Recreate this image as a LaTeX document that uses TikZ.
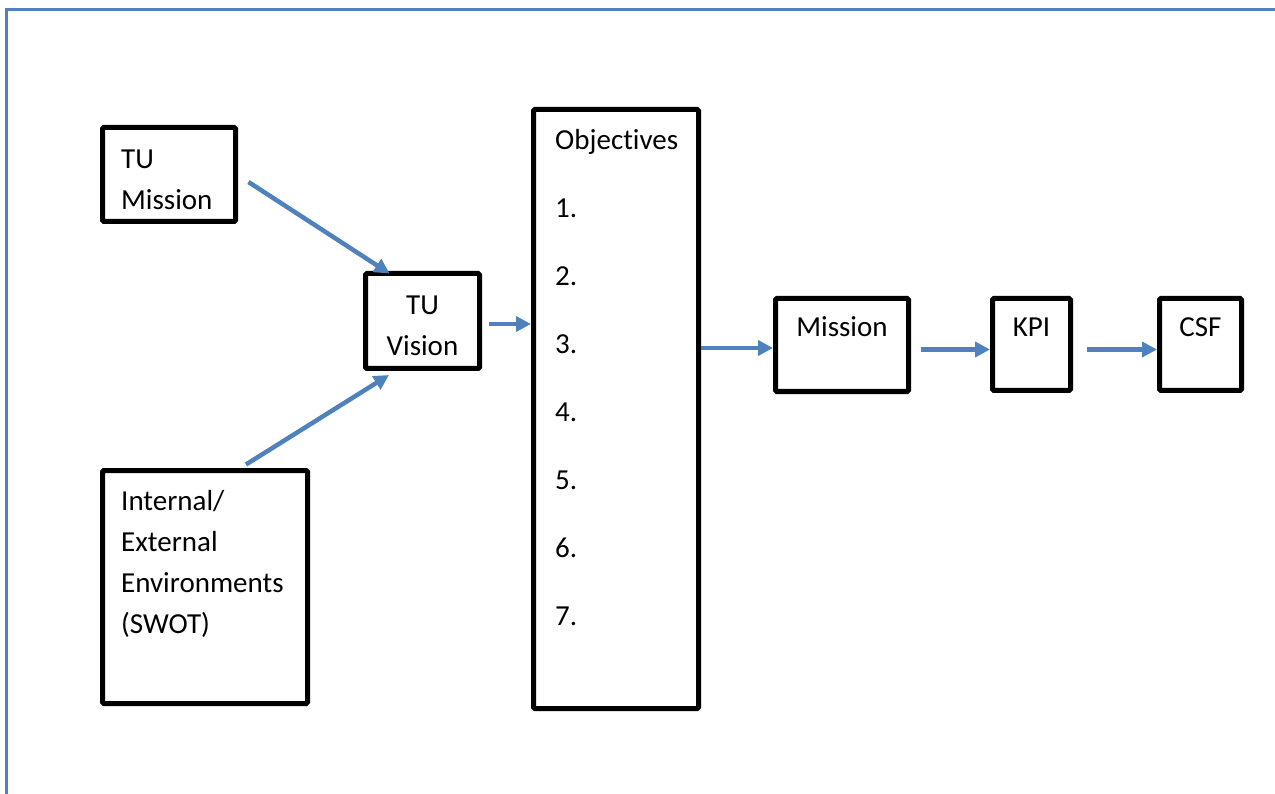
\documentclass[tikz,border=0pt]{standalone}
\usepackage{fontspec}
\setmainfont{Carlito}[Ligatures=CommonOff]
\usepackage{tikz}
\usetikzlibrary{arrows.meta,positioning}

\definecolor{flowblue}{HTML}{4F81BD}

\tikzset{
  blk/.style={draw=black, line width=5pt, rounded corners=1.5pt, inner sep=0pt},
  txt/.style={inner sep=0pt, anchor=base west, align=left,
    font=\fontsize{29pt}{41pt}\selectfont},
  ctxt/.style={txt, anchor=base, align=center},
  flow/.style={->, draw=flowblue, line width=4.5pt},
  frame/.style={draw=flowblue, line width=3pt}
}

\begin{document}
\begin{tikzpicture}[x=1pt,y=-1pt,>={Triangle[length=15pt,width=15pt]}]
  \useasboundingbox (0,0) rectangle (1275,794);
  \draw[frame] (1275,10) -- (6,10) -- (6,794);

  % boxes
  \node[blk, minimum width=133, minimum height=94]  (tumis) at (169,174.5)   {};
  \node[blk, minimum width=114, minimum height=95]  (tuvis) at (422.5,321)   {};
  \node[blk, minimum width=205, minimum height=233] (intl)  at (205,587)     {};
  \node[blk, minimum width=165, minimum height=599] (obj)   at (616,409)     {};
  \node[blk, minimum width=133, minimum height=93]  (mis)   at (842,345)     {};
  \node[blk, minimum width=78,  minimum height=92]  (kpi)   at (1031.5,344.5) {};
  \node[blk, minimum width=82,  minimum height=92]  (csf)   at (1200.5,344.5) {};

  % texts
  \node[txt, text width=110] (tumis-t) at ([shift={(21,44)}]tumis.north west) {TU\\Mission};
  \node[ctxt, text width=114] (tuvis-t) at ([shift={(0,43.5)}]tuvis.north) {TU\\Vision};
  \node[txt, text width=180] (intl-t) at ([shift={(21,42.5)}]intl.north west)
    {Internal/\\External\\Environments\\(SWOT)};
  \node[txt, text width=140, font=\fontsize{29pt}{68pt}\selectfont] (obj-t)
    at ([shift={(24,42.5)}]obj.north west)
    {Objectives\\1.\\2.\\3.\\4.\\5.\\6.\\7.};
  \node[ctxt, text width=133] (mis-t) at ([shift={(0,40.5)}]mis.north) {Mission};
  \node[ctxt, text width=78]  (kpi-t) at ([shift={(0,40.5)}]kpi.north) {KPI};
  \node[ctxt, text width=82]  (csf-t) at ([shift={(0,40.5)}]csf.north) {CSF};

  % connectors
  \coordinate (vis-out) at ([shift={(6.5,3)}]tuvis.east);
  \coordinate (mis-in)  at ([shift={(0,3)}]mis.west);
  \coordinate (kpi-in)  at ([shift={(0,5)}]kpi.west);
  \coordinate (csf-in)  at ([shift={(0,5)}]csf.west);
  \draw[flow] ([shift={(10.5,7.5)}]tumis.east) -- ([shift={(-33,2.5)}]tuvis.north);
  \draw[flow] ([shift={(41,-3.5)}]intl.north) -- ([shift={(-33.5,4)}]tuvis.south);
  \draw[flow] (vis-out) -- (vis-out -| obj.west);
  \draw[flow] (mis-in -| obj.east) -- (mis-in);
  \draw[flow] ([xshift=9.5pt]kpi-in -| mis.east) -- (kpi-in);
  \draw[flow] ([xshift=14pt]csf-in -| kpi.east) -- (csf-in);
\end{tikzpicture}
\end{document}
